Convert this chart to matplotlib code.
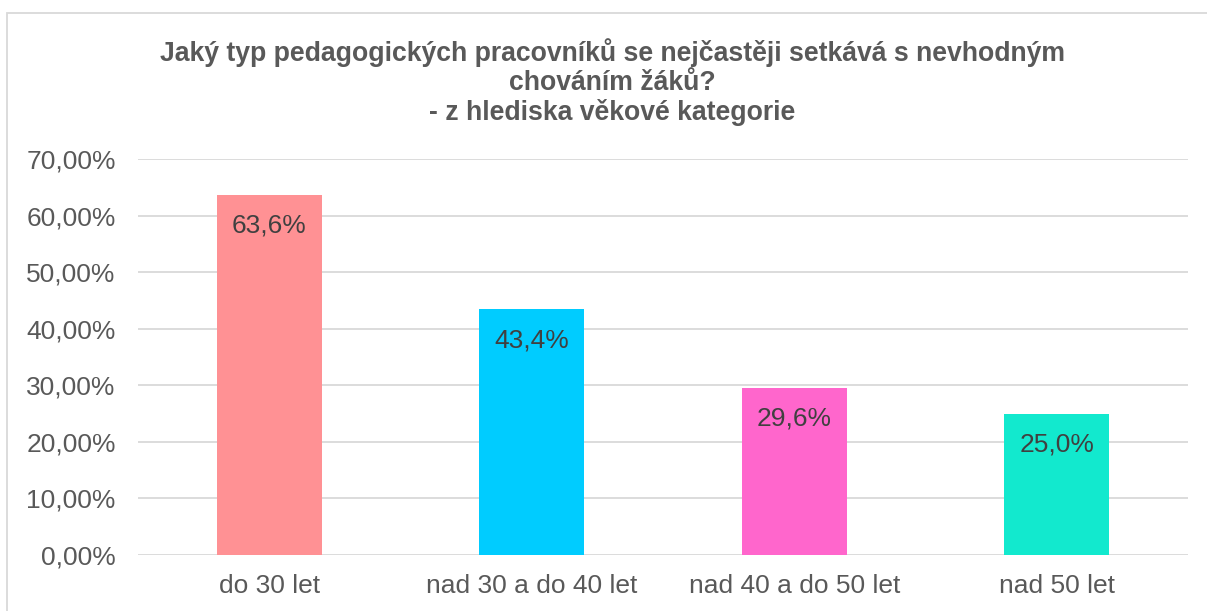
import matplotlib
matplotlib.use("Agg")
import matplotlib.pyplot as plt
from matplotlib.patches import Rectangle
from matplotlib.ticker import FuncFormatter

categories = ["do 30 let", "nad 30 a do 40 let", "nad 40 a do 50 let", "nad 50 let"]
values = [63.6, 43.4, 29.6, 25.0]
colors = ["#FF9194", "#00CCFF", "#FF66CC", "#12E9CE"]
title = ("Jaký typ pedagogických pracovníků se nejčastěji setkává s nevhodným\n"
         "chováním žáků?\n- z hlediska věkové kategorie")

plt.rcParams["font.family"] = ["Liberation Sans", "DejaVu Sans"]
text_color = "#595959"
grid_color = "#D9D9D9"

W, H = 1207, 611
fig = plt.figure(figsize=(W / 100, H / 100), dpi=100)
ax = fig.add_axes([138 / W, 56 / H, 1050 / W, 396 / H])

x = range(len(categories))
ax.bar(x, values, width=0.4, color=colors, zorder=2)

for xi, v in zip(x, values):
    ax.annotate(f"{v:.1f}%".replace(".", ","), (xi, v), xytext=(0, -22),
                textcoords="offset points", ha="center", va="center",
                fontsize=19, color="#404040", zorder=3)

ax.set_xlim(-0.5, len(categories) - 0.5)
ax.set_ylim(0, 70)
ax.set_yticks(range(0, 71, 10))
ax.yaxis.set_major_formatter(FuncFormatter(lambda v, _: f"{v:.2f}%".replace(".", ",")))
ax.set_xticks(list(x))
ax.set_xticklabels(categories)
ax.tick_params(axis="both", length=0, labelsize=19, colors=text_color)
ax.tick_params(axis="x", pad=14)
ax.tick_params(axis="y", pad=16)
ax.grid(axis="y", color=grid_color, linewidth=1.3, zorder=0)
ax.set_axisbelow(True)
for s in ax.spines.values():
    s.set_visible(False)

fig.text(612 / W, 1 - 38 / H, title, ha="center", va="top", fontsize=19.2,
         fontweight="bold", color=text_color, linespacing=1.16)

fig.patches.append(Rectangle((7 / W, -0.1), 1.2, 1 - 13 / H + 0.1,
                             transform=fig.transFigure, fill=False,
                             edgecolor=grid_color, linewidth=1.3))

fig.savefig("out.png", dpi=100)
